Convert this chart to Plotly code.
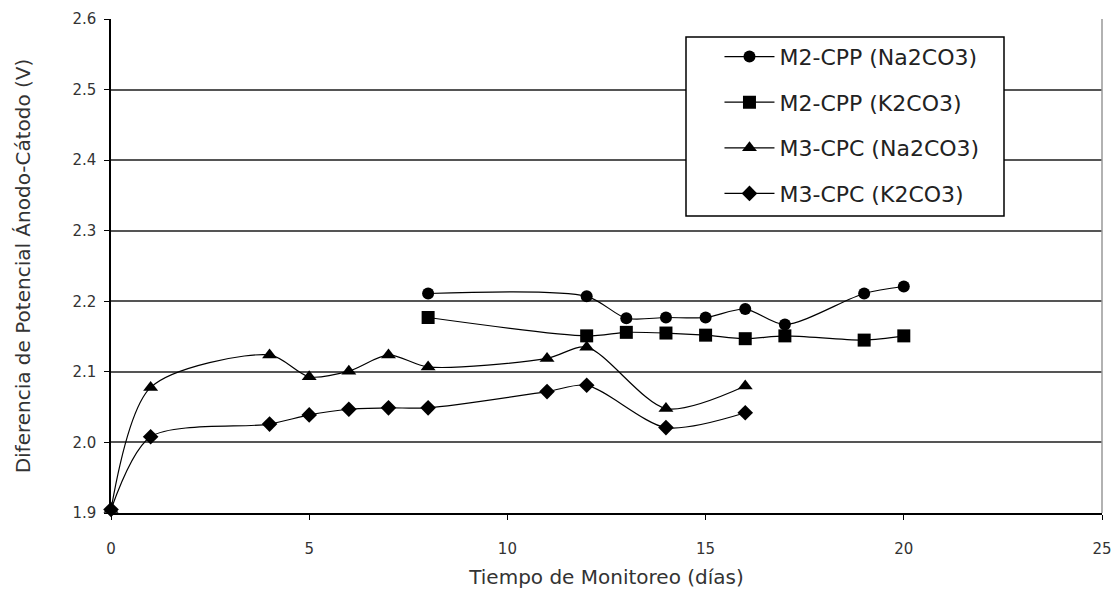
import plotly.graph_objects as go

# Data
na_m2_x = [8, 12, 13, 14, 15, 16, 17, 19, 20]
na_m2_y = [2.211, 2.207, 2.176, 2.177, 2.177, 2.189, 2.167, 2.211, 2.221]

k_m2_x = [8, 12, 13, 14, 15, 16, 17, 19, 20]
k_m2_y = [2.177, 2.151, 2.156, 2.155, 2.152, 2.147, 2.151, 2.145, 2.151]

na_m3_x = [0, 1, 4, 5, 6, 7, 8, 11, 12, 14, 16]
na_m3_y = [1.905, 2.078, 2.124, 2.093, 2.101, 2.124, 2.107, 2.119, 2.135, 2.048, 2.080]

k_m3_x = [0, 1, 4, 5, 6, 7, 8, 11, 12, 14, 16]
k_m3_y = [1.905, 2.008, 2.026, 2.039, 2.047, 2.049, 2.049, 2.072, 2.081, 2.021, 2.042]

x_ticks = [0, 5, 10, 15, 20, 25]
y_ticks = [1.9, 2.0, 2.1, 2.2, 2.3, 2.4, 2.5, 2.6]

names = ["M2-CPP (Na2CO3)", "M2-CPP (K2CO3)", "M3-CPC (Na2CO3)", "M3-CPC (K2CO3)"]
xs = [na_m2_x, k_m2_x, na_m3_x, k_m3_x]
ys = [na_m2_y, k_m2_y, na_m3_y, k_m3_y]
symbols = ["circle", "square", "triangle-up", "diamond"]
sizes = [12, 13, 13, 12]

FONT = "DejaVu Sans, Arial, sans-serif"

L, R, T, B = 111, 13, 19, 82
W, H = 1115, 595

fig = go.Figure()
for i in range(4):
    fig.add_trace(go.Scatter(
        x=xs[i], y=ys[i], name=names[i], mode="lines+markers",
        line=dict(color="black", width=1.2, shape="spline", smoothing=0.8),
        marker=dict(symbol=symbols[i], size=sizes[i], color="black"),
        legendgroup=str(i), cliponaxis=False,
    ))

fig.update_layout(
    width=W, height=H,
    margin=dict(l=L, r=R, t=T, b=B, autoexpand=False),
    paper_bgcolor="white", plot_bgcolor="white",
    font=dict(family=FONT, color="#333333"),
    showlegend=True,
    legend=dict(
        x=0.614, y=0.966, xanchor="left", yanchor="top",
        borderwidth=0, bgcolor="rgba(0,0,0,0)",
        font=dict(family=FONT, size=22, color="#222222"),
        tracegroupgap=14, traceorder="grouped",
        itemwidth=50,
    ),
    xaxis=dict(
        range=[0, 25], tickvals=x_ticks,
        showgrid=False, zeroline=False, automargin=False,
        showline=True, linecolor="black", linewidth=1.5,
        ticks="outside", ticklen=5, tickcolor="black",
        ticklabelstandoff=16,
        tickfont=dict(size=15),
        title=dict(text="Tiempo de Monitoreo (días)", font=dict(size=20), standoff=13),
    ),
    yaxis=dict(
        range=[1.9, 2.6], tickvals=y_ticks,
        tickformat=".1f",
        showgrid=True, gridcolor="#555555", gridwidth=1.5, zeroline=False, automargin=False,
        showline=True, linecolor="black", linewidth=1.5,
        ticks="outside", ticklen=5, tickcolor="black",
        ticklabelstandoff=5,
        tickfont=dict(size=15),
        title=dict(text="Diferencia de Potencial Ánodo-Cátodo (V)", font=dict(size=20), standoff=36),
    ),
)
fig.add_shape(type="line", xref="paper", yref="paper", x0=1, x1=1, y0=0, y1=1,
              line=dict(color="#999999", width=1.5))
# legend frame (window pixels 686..1004 x 37..216)
fig.add_shape(type="rect", xref="paper", yref="paper",
              x0=(686 - 111) / 991, x1=(1004 - 111) / 991,
              y0=(513 - 216) / 494, y1=(513 - 37) / 494,
              line=dict(color="black", width=1.5), fillcolor="white", layer="above")

fig.write_html("out.html", config={"displayModeBar": False},
               post_script="document.body.style.margin='0';")
